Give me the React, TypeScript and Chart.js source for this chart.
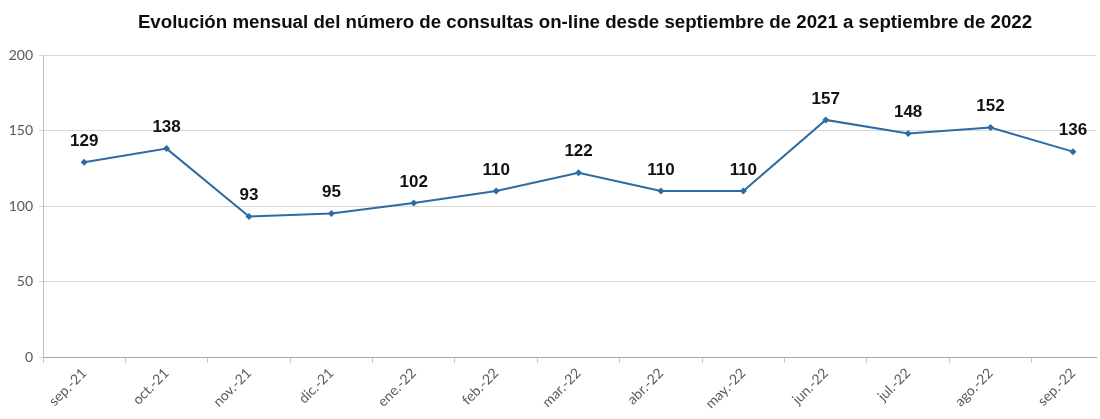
import React, { useEffect, useRef } from "react";
import { Chart, registerables } from "chart.js";

Chart.register(...registerables);

const TITLE = "Evolución mensual del número de consultas on-line desde septiembre de 2021 a septiembre de 2022";
const categories = [
  "sep.-21", "oct.-21", "nov.-21", "dic.-21", "ene.-22", "feb.-22", "mar.-22",
  "abr.-22", "may.-22", "jun.-22", "jul.-22", "ago.-22", "sep.-22",
];
const consultas = [129, 138, 93, 95, 102, 110, 122, 110, 110, 157, 148, 152, 136];
const yTicks = [0, 50, 100, 150, 200];

const LINE_COLOR = "#2d6ba3";

const dataLabels = {
  id: "dataLabels",
  afterDatasetsDraw(chart: any) {
    const ctx = chart.ctx;
    const meta = chart.getDatasetMeta(0);
    ctx.save();
    ctx.font = "bold 17px 'Liberation Sans', Arial, sans-serif";
    ctx.fillStyle = "#111111";
    ctx.textAlign = "center";
    ctx.textBaseline = "middle";
    meta.data.forEach((pt: any, i: number) => {
      ctx.fillText(String(consultas[i]), pt.x, pt.y - 21);
    });
    ctx.restore();
  },
};

const titlePlugin = {
  id: "customTitle",
  afterDraw(chart: any) {
    const ctx = chart.ctx;
    ctx.save();
    ctx.font = "bold 18.7px 'Liberation Sans', Arial, sans-serif";
    ctx.fillStyle = "#0d0d0d";
    ctx.textAlign = "center";
    ctx.textBaseline = "middle";
    ctx.fillText(TITLE, 585, 23);
    ctx.restore();
  },
};

export default function App() {
  const ref = useRef<HTMLCanvasElement>(null);
  useEffect(() => {
    const canvas = ref.current;
    if (!canvas) return;
    const chart = new Chart(canvas, {
      type: "line",
      data: {
        datasets: [
          {
            data: consultas.map((v, i) => ({ x: i, y: v })),
            borderColor: LINE_COLOR,
            backgroundColor: LINE_COLOR,
            borderWidth: 2,
            pointStyle: "rectRot",
            pointRadius: 3.5,
            pointBorderWidth: 0,
            tension: 0,
            clip: false as any,
          },
        ],
      },
      options: {
        animation: false,
        responsive: false,
        layout: { padding: { left: 0, right: 0, top: 55, bottom: 0 } },
        plugins: {
          legend: { display: false },
          tooltip: { enabled: false },
          title: { display: false },
        },
        scales: {
          x: {
            type: "linear",
            min: -0.5,
            max: 12.28,
            afterBuildTicks: (scale: any) => {
              scale.ticks = categories.map((_, i) => ({ value: i }));
            },
            afterFit: (scale: any) => {
              scale.height = 62;
            },
            ticks: {
              autoSkip: false,
              maxRotation: 45,
              minRotation: 45,
              color: "#595959",
              font: { family: "Lato, 'Open Sans', sans-serif", size: 14 },
              padding: 2,
              callback: (v: any) => categories[v as number] ?? "",
            },
            grid: {
              display: true,
              drawOnChartArea: false,
              drawTicks: true,
              tickLength: 6,
              offset: true,
              color: "#c8c8c8",
            },
            border: { display: true, color: "#a6a6a6", width: 1 },
          },
          y: {
            min: 0,
            max: 200,
            afterBuildTicks: (scale: any) => {
              scale.ticks = yTicks.map((v) => ({ value: v }));
            },
            afterFit: (scale: any) => {
              scale.width = 43;
            },
            ticks: {
              color: "#595959",
              font: { family: "Lato, 'Open Sans', sans-serif", size: 14 },
              padding: 6,
            },
            grid: {
              color: "#d9d9d9",
              drawTicks: true,
              tickLength: 4,
            },
            border: { display: true, color: "#bfbfbf", width: 1 },
          },
        },
      },
      plugins: [dataLabels, titlePlugin],
    });
    return () => chart.destroy();
  }, []);
  return (
    <div style={{ position: "absolute", left: 0, top: 0, width: 1100, height: 419, background: "#ffffff" }}>
      <canvas ref={ref} width={1100} height={419} />
    </div>
  );
}
